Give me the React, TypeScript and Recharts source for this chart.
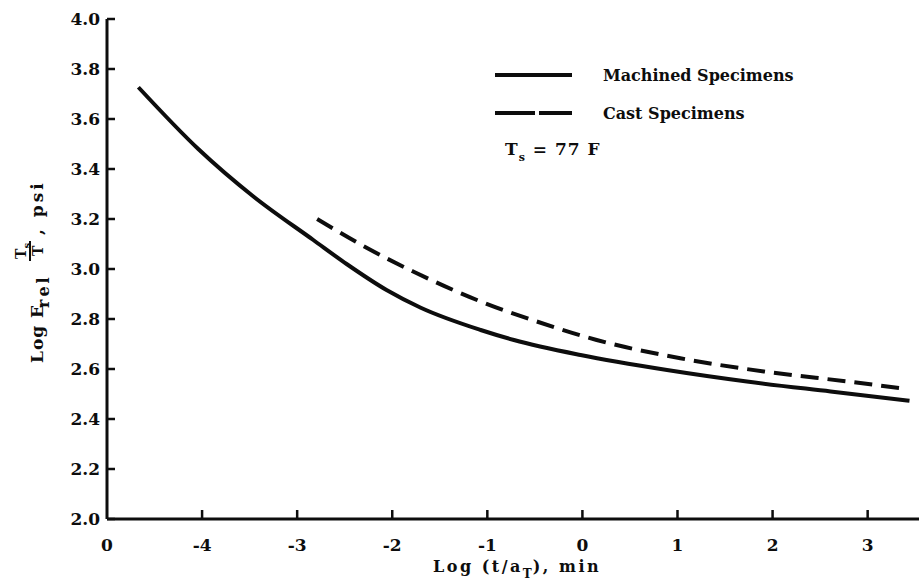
import React from 'react'
import { LineChart, Line, XAxis, YAxis, Customized } from 'recharts'

// relaxation modulus master curves, reference temperature 77 F
const machinedLogTime = [-4.67, -4.04, -3.46, -2.83, -2.48, -2.06, -1.7, -1.07, -0.72, -0.02, 0.89, 1.73, 2.61, 3.44]
const machinedLogE = [3.727, 3.48, 3.29, 3.116, 3.02, 2.916, 2.845, 2.756, 2.716, 2.656, 2.596, 2.55, 2.51, 2.473]

const castLogTime = [-2.79, -2.27, -1.78, -1.07, -0.48, 0.15, 1.03, 1.91, 2.79, 3.42]
const castLogE = [3.2, 3.085, 2.99, 2.87, 2.79, 2.716, 2.643, 2.59, 2.55, 2.52]

const xTicks = [-5, -4, -3, -2, -1, 0, 1, 2, 3]
const xTickLabels = ['0', '-4', '-3', '-2', '-1', '0', '1', '2', '3']
const yTicks = [2.0, 2.2, 2.4, 2.6, 2.8, 3.0, 3.2, 3.4, 3.6, 3.8, 4.0]

const seriesNames = ['Machined Specimens', 'Cast Specimens']

const machined = machinedLogTime.map((t, i) => ({ t, e: machinedLogE[i] }))
const cast = castLogTime.map((t, i) => ({ t, e: castLogE[i] }))

const FONT = '"DejaVu Serif", serif'
const INK = '#0d0d0d'

const YTick = (props: any) => {
  const { x, y, payload } = props
  return (
    <g>
      <line x1={x} y1={y} x2={x + 8} y2={y} stroke={INK} strokeWidth={2.5} />
      <text x={x - 7} y={y} dy={6} textAnchor="end" fontFamily={FONT} fontWeight="bold" fontSize={17} fill={INK}>
        {Number(payload.value).toFixed(1)}
      </text>
    </g>
  )
}

const XTick = (props: any) => {
  const { x, y, index } = props
  return (
    <g>
      {index > 0 && <line x1={x} y1={y} x2={x} y2={y - 9} stroke={INK} strokeWidth={2.5} />}
      <text x={x} y={y + 32} textAnchor="middle" fontFamily={FONT} fontWeight="bold" fontSize={17} fill={INK}>
        {xTickLabels[index]}
      </text>
    </g>
  )
}

// legend, temperature note and axis titles
const Annotations = () => (
  <g fontFamily={FONT} fontWeight="bold" fill={INK}>
    <line x1={495} y1={75} x2={572} y2={75} stroke={INK} strokeWidth={4} />
    <text x={603} y={81} fontSize={16}>{seriesNames[0]}</text>
    <line x1={495} y1={113} x2={535} y2={113} stroke={INK} strokeWidth={4} />
    <line x1={539} y1={113} x2={572} y2={113} stroke={INK} strokeWidth={4} />
    <text x={603} y={119} fontSize={16}>{seriesNames[1]}</text>

    <text x={505} y={155} fontSize={17} letterSpacing={1}>
      T<tspan fontSize={11} dy={6}>s</tspan>
      <tspan dy={-6}> = 77 F</tspan>
    </text>

    <text x={433} y={572} fontSize={16} letterSpacing={2.5}>
      Log (t/a<tspan fontSize={12} dy={6} letterSpacing={1}>T</tspan>
      <tspan dy={-6}>), min</tspan>
    </text>

    <g transform="translate(43,363) rotate(-90)">
      <text x={0} y={0} fontSize={17} letterSpacing={1}>Log E</text>
      <text x={55} y={6} fontSize={16} letterSpacing={3}>rel</text>
      <text x={104} y={-17} fontSize={14}>
        T<tspan fontSize={10} dy={4}>s</tspan>
      </text>
      <line x1={102} y1={-13} x2={122} y2={-13} stroke={INK} strokeWidth={2} />
      <text x={107} y={0} fontSize={14}>T</text>
      <text x={128} y={0} fontSize={17} letterSpacing={3}>, psi</text>
    </g>
  </g>
)

export default function App() {
  return (
    <div style={{ position: 'absolute', left: 0, top: 0, width: 919, height: 588, background: '#fff' }}>
      <LineChart width={919} height={588} margin={{ top: 19, right: 0, bottom: 0, left: 0 }}>
        <XAxis
          type="number"
          dataKey="t"
          domain={[-5, 3.54]}
          ticks={xTicks}
          allowDataOverflow
          height={69}
          axisLine={{ stroke: INK, strokeWidth: 3 }}
          tickLine={false}
          tickSize={0}
          tickMargin={0}
          tick={<XTick />}
          interval={0}
        />
        <YAxis
          type="number"
          dataKey="e"
          domain={[2, 4]}
          ticks={yTicks}
          width={107}
          axisLine={{ stroke: INK, strokeWidth: 3 }}
          tickLine={false}
          tickSize={0}
          tickMargin={0}
          tick={<YTick />}
          interval={0}
        />
        <Line
          data={machined}
          dataKey="e"
          name={seriesNames[0]}
          type="monotone"
          stroke={INK}
          strokeWidth={4}
          dot={false}
          isAnimationActive={false}
        />
        <Line
          data={cast}
          dataKey="e"
          name={seriesNames[1]}
          type="monotone"
          stroke={INK}
          strokeWidth={4}
          strokeDasharray="18 9"
          dot={false}
          isAnimationActive={false}
        />
        <Customized component={Annotations} />
      </LineChart>
    </div>
  )
}
